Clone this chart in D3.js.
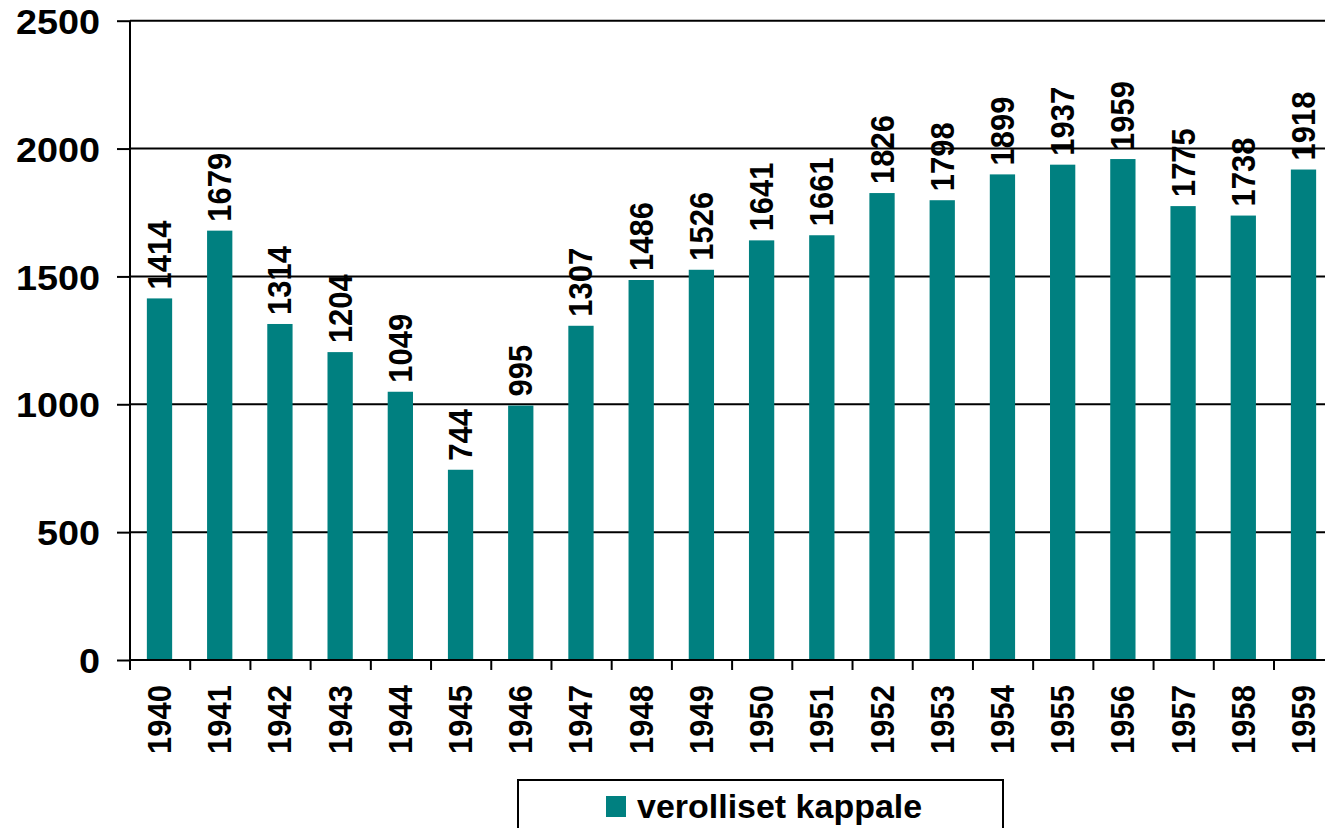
<!doctype html>
<html lang="en">
<head>
  <meta charset="utf-8" />
  <title>verolliset kappale 1940-1959</title>
  <script src="https://cdn.jsdelivr.net/npm/d3@7/dist/d3.min.js"></script>
  <style>
    body { margin: 0; background: #fff; }
    svg { display: block; font-family: "Liberation Sans", Arial, sans-serif; font-weight: bold; }
  </style>
</head>
<body>
  <div id="chart"></div>
  <script>
    const years = ["1940", "1941", "1942", "1943", "1944", "1945", "1946", "1947", "1948", "1949",
      "1950", "1951", "1952", "1953", "1954", "1955", "1956", "1957", "1958", "1959"];
    const kappale = [1414, 1679, 1314, 1204, 1049, 744, 995, 1307, 1486, 1526,
      1641, 1661, 1826, 1798, 1899, 1937, 1959, 1775, 1738, 1918];
    const yTicks = [0, 500, 1000, 1500, 2000, 2500];
    const seriesName = "verolliset kappale";

    const w = 1325;
    const h = 828;
    const plotLeft = 130, plotRight = 1333, plotTop = 20.7, plotBottom = 660;
    const teal = "#008080";
    // the source picture is slightly stretched sideways, so text is too
    const sx = 1.08;

    const svg = d3.select("#chart").append("svg")
      .attr("width", w).attr("height", h)
      .style("overflow", "hidden");

    const x = d3.scaleBand().domain(years).range([plotLeft, plotRight]).paddingInner(0.58).paddingOuter(0.28);
    const y = d3.scaleLinear().domain([0, 2500]).range([plotBottom, plotTop]);

    // gridlines
    svg.append("g")
      .selectAll("line")
      .data(yTicks.filter(d => d > 0))
      .enter()
      .append("line")
      .attr("x1", plotLeft).attr("x2", w)
      .attr("y1", d => y(d)).attr("y2", d => y(d))
      .style("stroke", "#000").style("stroke-width", 2);

    // bars
    svg.append("g")
      .selectAll("rect")
      .data(kappale)
      .enter()
      .append("rect")
      .attr("x", (d, i) => x(years[i]))
      .attr("y", d => y(d))
      .attr("width", x.bandwidth())
      .attr("height", d => plotBottom - y(d))
      .style("fill", teal);

    // value labels
    svg.append("g")
      .selectAll("text")
      .data(kappale)
      .enter()
      .append("text")
      .text(d => d)
      .attr("transform", (d, i) => "translate(" + (x(years[i]) + x.bandwidth() / 2 + 11.5) + "," + (y(d) - 9) + ") scale(" + sx + ",1) rotate(-90)")
      .style("font-size", "31px")
      .style("fill", "#000");

    // y axis
    const yAxis = svg.append("g")
      .attr("transform", "translate(" + plotLeft + ",0)")
      .call(d3.axisLeft(y).tickValues(yTicks).tickSize(13).tickPadding(18).tickFormat(d3.format("d")));
    yAxis.select(".domain").attr("d", "M0," + plotTop + "V" + plotBottom).style("stroke-width", 2);
    yAxis.selectAll(".tick line").style("stroke-width", 2);
    yAxis.selectAll(".tick text")
      .attr("x", -30 / sx)
      .attr("transform", "scale(" + sx + ",1)")
      .style("font-size", "35px")
      .attr("dy", "0.36em")
      .style("fill", "#000");

    // x axis
    const xAxis = svg.append("g")
      .attr("transform", "translate(0," + plotBottom + ")")
      .call(d3.axisBottom(x).tickSize(0).tickPadding(0));
    xAxis.select(".domain").attr("d", "M" + plotLeft + ",0H" + w).style("stroke-width", 2);
    xAxis.selectAll(".tick text")
      .attr("y", 0)
      .attr("dy", 0)
      .attr("transform", "translate(11.5,25) scale(" + sx + ",1) rotate(-90)")
      .style("text-anchor", "end")
      .style("font-size", "31px")
      .style("fill", "#000");

    // category separator ticks
    svg.append("g")
      .selectAll("line")
      .data(d3.range(years.length + 1))
      .enter()
      .append("line")
      .attr("x1", i => plotLeft + i * x.step())
      .attr("x2", i => plotLeft + i * x.step())
      .attr("y1", plotBottom).attr("y2", plotBottom + 10)
      .style("stroke", "#000").style("stroke-width", 2);

    // legend
    const legend = svg.append("g");
    legend.append("rect")
      .attr("x", 518).attr("y", 780)
      .attr("width", 485).attr("height", 60)
      .style("fill", "none").style("stroke", "#000").style("stroke-width", 2);
    legend.append("rect")
      .attr("x", 606).attr("y", 796)
      .attr("width", 20).attr("height", 21)
      .style("fill", teal);
    legend.append("text")
      .text(seriesName)
      .attr("x", 637 / 1.03).attr("y", 818)
      .attr("transform", "scale(1.03,1)")
      .style("font-size", "33px")
      .style("fill", "#000");
  </script>
</body>
</html>
